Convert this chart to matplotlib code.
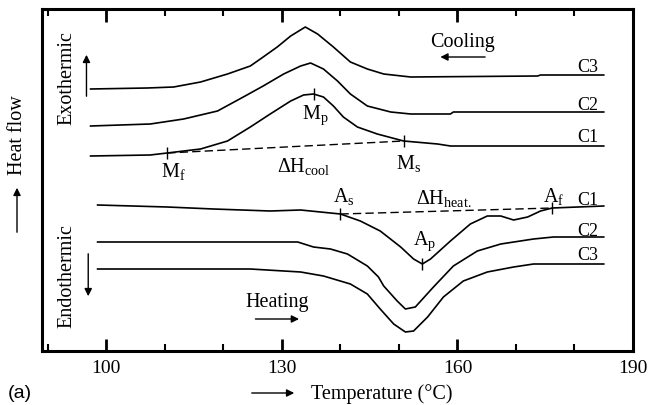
import numpy as np
import matplotlib
matplotlib.use("Agg")
import matplotlib.pyplot as plt
from matplotlib.ticker import MultipleLocator

# DSC-Kurven, Temperatur in degC, Waermestrom in willk. Einheiten
#============================================================================
# Abkuehlen
T_cool_C3 = [97.3, 107.0, 111.5, 116.1, 120.7, 124.6, 126.8, 129.2, 131.5, 134.0, 136.1, 138.8,
             141.7, 144.6, 147.4, 152.0, 173.7, 174.2, 185.0]
q_cool_C3 = [262, 263, 264, 269, 277, 285, 294, 304, 315, 324, 317, 304,
             289, 282, 277, 274, 275, 276, 276]

T_cool_C2 = [97.3, 107.5, 113.2, 119.0, 123.4, 126.8, 130.3, 133.2, 134.9, 137.1, 139.5, 141.7,
             144.6, 148.6, 152.0, 158.8, 159.3, 185.0]
q_cool_C2 = [225, 227, 232, 240, 254, 265, 277, 285, 288, 282, 270, 257,
             245, 239, 237, 237, 239, 239]

T_cool_C1 = [97.3, 107.5, 110.4, 116.1, 120.7, 124.6, 128.0, 131.5, 133.7, 135.4, 137.1, 138.8,
             140.5, 142.9, 146.3, 150.8, 156.6, 158.8, 185.0]
q_cool_C1 = [195, 196, 198, 202, 210, 224, 237, 250, 256, 257, 254, 245,
             234, 224, 217, 210, 207, 205, 205]

# Aufheizen
T_heat_C1 = [98.5, 110.4, 118.3, 128.0, 133.2, 140.0, 143.4, 146.8, 150.3, 152.5, 154.0, 155.4,
             158.8, 162.2, 165.1, 167.4, 169.6, 172.0, 174.2, 176.2, 185.0]
q_heat_C1 = [146, 144, 142, 140, 141, 137, 130, 120, 104, 92, 87, 92,
             110, 127, 135, 135, 131, 134, 140, 143, 145]

T_heat_C2 = [98.5, 132.7, 135.4, 138.3, 141.2, 144.6, 146.5, 147.4, 149.7, 151.1, 152.8, 155.9,
             159.3, 163.4, 167.4, 173.0, 176.4, 185.0]
q_heat_C2 = [109, 109, 104, 102, 97, 85, 74, 65, 50, 42, 44, 64,
             85, 100, 107, 112, 114, 114]

T_heat_C3 = [98.5, 124.6, 133.2, 137.1, 141.7, 144.6, 146.8, 149.1, 151.1, 152.5, 154.9, 157.6,
             161.0, 165.1, 169.6, 173.0, 185.0]
q_heat_C3 = [82, 82, 79, 75, 67, 57, 42, 27, 19, 20, 34, 54,
             70, 79, 84, 87, 87]

# Kennpunkte (Mf, Mp, Ms / As, Ap, Af)
T_mart = [110.4, 135.4, 150.8]
q_mart = [198, 257, 210]
T_aus = [140.0, 154.0, 176.2]
q_aus = [137, 87, 143]

# Achsen
xTicksMajor = [100, 130, 160, 190]

plt.rcParams['font.family'] = ['Liberation Serif', 'DejaVu Serif']
plt.rcParams['mathtext.fontset'] = 'custom'
plt.rcParams['mathtext.rm'] = 'Liberation Serif'
plt.rcParams['mathtext.it'] = 'Liberation Serif'

fig = plt.figure(figsize=(6.48, 4.06), dpi=100)
ax = fig.add_axes([42/648, 1 - 352/406, (633 - 42)/648, (352 - 10)/406])

lw = 1.2
for T, q in [(T_cool_C3, q_cool_C3), (T_cool_C2, q_cool_C2), (T_cool_C1, q_cool_C1),
             (T_heat_C1, q_heat_C1), (T_heat_C2, q_heat_C2), (T_heat_C3, q_heat_C3)]:
    ax.plot(T, q, color="black", lw=lw)

# Basislinien (gestrichelt)
ax.plot([T_mart[0], T_mart[2]], [q_mart[0], q_mart[2]], color="black", lw=1.0, ls=(0, (6, 3)))
ax.plot([T_aus[0], T_aus[2]], [q_aus[0], q_aus[2]], color="black", lw=1.0, ls=(0, (6, 3)))

# Markierungen
ax.plot(T_mart, q_mart, ls="none", marker="|", ms=9, mew=1.0, color="black")
ax.plot(T_aus, q_aus, ls="none", marker="|", ms=9, mew=1.0, color="black")

fs = 14.5
ax.text(135.7, 237, r"M$_\mathrm{p}$", fontsize=fs, ha="center", va="center")
ax.text(111.5, 181, r"M$_\mathrm{f}$", fontsize=fs, ha="center", va="center")
ax.text(133.7, 186, r"ΔH$_\mathrm{cool}$", fontsize=fs, ha="center", va="center")
ax.text(151.6, 189, r"M$_\mathrm{s}$", fontsize=fs, ha="center", va="center")
ax.text(140.6, 156, r"A$_\mathrm{s}$", fontsize=fs, ha="center", va="center")
ax.text(157.6, 154, r"ΔH$_\mathrm{heat.}$", fontsize=fs, ha="center", va="center")
ax.text(176.4, 156, r"A$_\mathrm{f}$", fontsize=fs, ha="center", va="center")
ax.text(154.4, 111, r"A$_\mathrm{p}$", fontsize=fs, ha="center", va="center")

# Kurvenbezeichnungen
fsC = 13
for y, s in [(285, "C3"), (247, "C2"), (215, "C1"), (152, "C1"), (120, "C2"), (97, "C3")]:
    ax.text(182.3, y, s, fontsize=fsC, ha="center", va="center")

ax.text(160.9, 310, "Cooling", fontsize=fs, ha="center", va="center")
ax.annotate("", xy=(156.6, 294), xytext=(165.2, 294),
            arrowprops=dict(arrowstyle="-|>", color="black", lw=1.0, mutation_scale=11))
ax.text(129.2, 49, "Heating", fontsize=fs, ha="center", va="center")
ax.annotate("", xy=(133.4, 32), xytext=(125.0, 32),
            arrowprops=dict(arrowstyle="-|>", color="black", lw=1.0, mutation_scale=11))

ax.text(93.3, 274, "Exothermic", fontsize=fs, rotation=90, ha="center", va="center")
ax.annotate("", xy=(96.6, 299), xytext=(96.6, 252),
            arrowprops=dict(arrowstyle="-|>", color="black", lw=1.0, mutation_scale=11))
ax.text(93.3, 76, "Endothermic", fontsize=fs, rotation=90, ha="center", va="center")
ax.annotate("", xy=(96.9, 52), xytext=(96.9, 100),
            arrowprops=dict(arrowstyle="-|>", color="black", lw=1.0, mutation_scale=11))

# Achsen formatieren
ax.set_xlim(89, 190)
ax.set_ylim(0, 342)
ax.set_xticks(xTicksMajor)
ax.xaxis.set_minor_locator(MultipleLocator(10))
ax.set_yticks([])
ax.tick_params(axis="x", which="major", direction="in", length=9, width=2, top=True,
               labelsize=14, pad=6)
ax.tick_params(axis="x", which="minor", direction="in", length=5, width=1.5, top=True)
for sp in ax.spines.values():
    sp.set_linewidth(2.2)

# Beschriftungen ausserhalb
W, H = 648, 406
fig.text(17/W, 1 - 135/H, "Heat flow", fontsize=fs, rotation=90, ha="center", va="center")
ax.annotate("", xy=(17/W, 1 - 186/H), xytext=(17/W, 1 - 236/H), xycoords="figure fraction",
            textcoords="figure fraction",
            arrowprops=dict(arrowstyle="-|>", color="black", lw=1.0, mutation_scale=11))
fig.text(8/W, 1 - 394/H, "(a)", fontsize=14, family="Liberation Sans", ha="left", va="center")
fig.text(311/W, 1 - 394/H, "Temperature (°C)", fontsize=fs, ha="left", va="center")
ax.annotate("", xy=(297/W, 1 - 394/H), xytext=(249/W, 1 - 394/H), xycoords="figure fraction",
            textcoords="figure fraction",
            arrowprops=dict(arrowstyle="-|>", color="black", lw=1.0, mutation_scale=11))

fig.savefig("out.png", dpi=100)
